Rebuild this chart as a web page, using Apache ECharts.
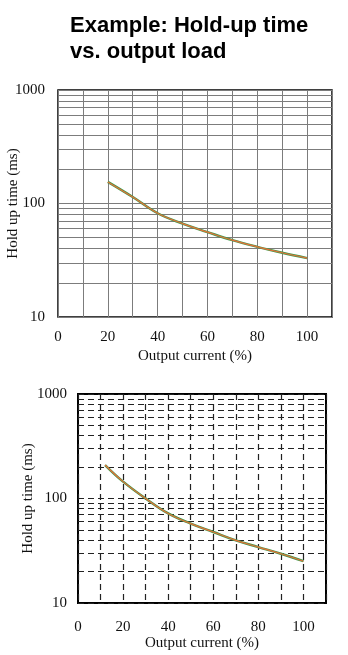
<!DOCTYPE html>
<html>
<head>
<meta charset="utf-8">
<script src="https://cdn.jsdelivr.net/npm/echarts@6/dist/echarts.min.js"></script>
<style>
  html, body { margin: 0; padding: 0; background: #fff; }
  #chart { width: 348px; height: 655px; }
</style>
</head>
<body>
<div id="chart"></div>
<script>
// Hold-up time curves, top and bottom panels
const topLoad = [20, 30, 40, 50, 60, 70, 80, 90, 100];
const topHoldUp = [155, 114, 82, 66.5, 56, 47.5, 41.5, 36.8, 33];

const bottomLoad = [12, 20, 30, 40, 50, 60, 70, 80, 90, 100];
const bottomHoldUp = [209, 145, 100, 72, 57.5, 47.8, 39.8, 34.3, 29.6, 25.1];

// minor horizontal grid values inside each decade
const minorGrid = [20, 30, 40, 50, 60, 70, 80, 90, 200, 300, 400, 500, 600, 700, 800, 900];
const xTickLabels = [0, 20, 40, 60, 80, 100];

const serif = '"Liberation Serif", "Times New Roman", serif';

function xAxisFor(gridIndex, gridStyle, labelSize, labelMargin, nameGap) {
  return {
    type: 'value', gridIndex: gridIndex, min: 0, max: 110, interval: 10,
    axisLine: { show: false },
    axisTick: { show: false },
    axisLabel: {
      fontFamily: serif, fontSize: labelSize, color: '#111', margin: labelMargin,
      formatter: v => xTickLabels.indexOf(v) >= 0 ? String(v) : ''
    },
    splitLine: { show: true, lineStyle: gridStyle },
    name: 'Output current (%)', nameLocation: 'middle', nameGap: nameGap,
    nameMoveOverlap: false,
    nameTextStyle: { fontFamily: serif, fontSize: labelSize, color: '#111' }
  };
}

function yAxisFor(gridIndex, gridStyle, labelSize, labelMargin, nameGap) {
  return {
    type: 'log', logBase: 10, gridIndex: gridIndex, min: 10, max: 1000,
    axisLine: { show: false },
    axisTick: { show: false },
    axisLabel: {
      fontFamily: serif, fontSize: labelSize, color: '#111', margin: labelMargin,
      formatter: v => String(Math.round(v))
    },
    splitLine: { show: true, lineStyle: gridStyle },
    name: 'Hold up time (ms)', nameLocation: 'middle', nameGap: nameGap,
    nameMoveOverlap: false,
    nameTextStyle: { fontFamily: serif, fontSize: labelSize, color: '#111' }
  };
}

function gridLinesSeries(idx, style) {
  return {
    type: 'line', xAxisIndex: idx, yAxisIndex: idx, data: [], silent: true,
    markLine: {
      symbol: 'none', silent: true, animation: false,
      label: { show: false },
      lineStyle: style,
      data: minorGrid.map(v => ({ yAxis: v }))
    }
  };
}

function curve(idx, xs, ys, color, width, z) {
  return {
    type: 'line', xAxisIndex: idx, yAxisIndex: idx, z: z,
    data: xs.map((x, i) => [x, ys[i]]),
    smooth: 0.4, showSymbol: false, symbol: 'none',
    lineStyle: { color: color, width: width }
  };
}

const topGridStyle = { color: '#7c7c7c', width: 1, type: 'solid' };
const bottomGridStyle = { color: '#222', width: 1.2, type: [6, 4] };

const chart = echarts.init(document.getElementById('chart'), null, { renderer: 'canvas' });
chart.setOption({
  animation: false,
  backgroundColor: '#fff',
  title: {
    text: 'Example: Hold-up time\nvs. output load',
    left: 70, top: 13, padding: 0,
    textStyle: {
      fontFamily: '"Liberation Sans", Arial, sans-serif',
      fontWeight: 'bold', fontSize: 22, lineHeight: 26, color: '#000'
    }
  },
  grid: [
    { left: 58, top: 90, width: 274, height: 227, show: true, outerBoundsMode: 'none',
      borderColor: '#000', borderWidth: 1.5, backgroundColor: 'transparent' },
    { left: 78, top: 394, width: 248, height: 209, show: true, outerBoundsMode: 'none',
      borderColor: '#000', borderWidth: 2, backgroundColor: 'transparent' }
  ],
  xAxis: [
    xAxisFor(0, topGridStyle, 15, 13, 32),
    xAxisFor(1, bottomGridStyle, 15, 17, 33)
  ],
  yAxis: [
    yAxisFor(0, topGridStyle, 15, 13, 37),
    yAxisFor(1, bottomGridStyle, 15, 11, 42)
  ],
  series: [
    gridLinesSeries(0, topGridStyle),
    gridLinesSeries(1, bottomGridStyle),
    curve(0, topLoad, topHoldUp, '#3f9a4a', 2.4, 5),
    curve(0, topLoad, topHoldUp, '#e8703a', 1.2, 6),
    curve(1, bottomLoad, bottomHoldUp, '#3f9a4a', 2.4, 5),
    curve(1, bottomLoad, bottomHoldUp, '#e8703a', 1.2, 6)
  ]
});
</script>
</body>
</html>
